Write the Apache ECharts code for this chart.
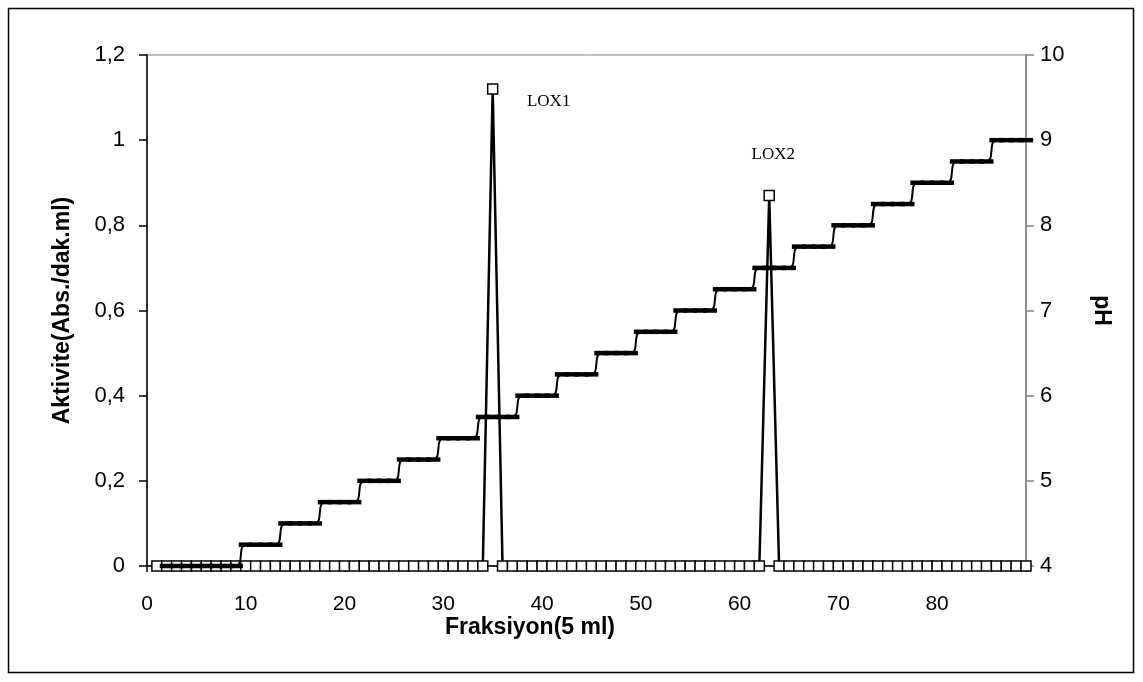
<!DOCTYPE html>
<html>
<head>
<meta charset="utf-8">
<script src="https://cdn.jsdelivr.net/npm/echarts@6/dist/echarts.min.js"></script>
<style>
html,body{margin:0;padding:0;background:#fff;}
#c{width:1143px;height:682px;}
</style>
</head>
<body>
<div id="c"></div>
<script>
// Fraction numbers (x)
var fractions = [1,2,3,4,5,6,7,8,9,10,11,12,13,14,15,16,17,18,19,20,21,22,23,24,25,26,27,28,29,30,
  31,32,33,34,35,36,37,38,39,40,41,42,43,44,45,46,47,48,49,50,51,52,53,54,55,56,57,58,59,60,
  61,62,63,64,65,66,67,68,69,70,71,72,73,74,75,76,77,78,79,80,81,82,83,84,85,86,87,88,89];
// Activity (Abs./dak.ml), left axis
var activity = [0,0,0,0,0,0,0,0,0,0,0,0,0,0,0,0,0,0,0,0,0,0,0,0,0,0,0,0,0,0,
  0,0,0,0,1.12,0,0,0,0,0,0,0,0,0,0,0,0,0,0,0,0,0,0,0,0,0,0,0,0,0,
  0,0,0.87,0,0,0,0,0,0,0,0,0,0,0,0,0,0,0,0,0,0,0,0,0,0,0,0,0,0];
// pH gradient, right axis
var pH = [null,4,4,4,4,4,4,4,4,4.25,4.25,4.25,4.25,4.5,4.5,4.5,4.5,4.75,4.75,4.75,4.75,5,5,5,5,5.25,5.25,5.25,5.25,5.5,
  5.5,5.5,5.5,5.75,5.75,5.75,5.75,6,6,6,6,6.25,6.25,6.25,6.25,6.5,6.5,6.5,6.5,6.75,6.75,6.75,6.75,7,7,7,7,7.25,7.25,7.25,
  7.25,7.5,7.5,7.5,7.5,7.75,7.75,7.75,7.75,8,8,8,8,8.25,8.25,8.25,8.25,8.5,8.5,8.5,8.5,8.75,8.75,8.75,8.75,9,9,9,9];
var leftTicks = [0, 0.2, 0.4, 0.6, 0.8, 1, 1.2];
var rightTicks = [4, 5, 6, 7, 8, 9, 10];
var xTicks = [0, 10, 20, 30, 40, 50, 60, 70, 80];
var peakLabels = [{name: 'LOX1', x: 35, y: 1.12}, {name: 'LOX2', x: 63, y: 0.87}];

var actData = fractions.map(function(f, i){ return [f, activity[i]]; });
var phData = fractions.map(function(f, i){ return [f, pH[i]]; }).filter(function(d){ return d[1] !== null; });

var FONT = "'Liberation Sans', Arial, sans-serif";
var chart = echarts.init(document.getElementById('c'), null, {renderer: 'canvas'});
var option = {
  animation: false,
  backgroundColor: '#fff',
  grid: {left: 147, right: 117, top: 55, bottom: 116, show: true, borderColor: '#808080', borderWidth: 1},
  xAxis: {
    type: 'value', min: 0, max: 89, interval: 10,
    axisLine: {show: true, onZero: false, lineStyle: {color: '#000', width: 1.5}},
    axisTick: {show: true, inside: false, length: 6, lineStyle: {color: '#000', width: 1.5}},
    axisLabel: {color: '#000', fontSize: 21, fontFamily: FONT, margin: 28,
      formatter: function(v){ return xTicks.indexOf(v) >= 0 ? String(v) : ''; }},
    splitLine: {show: false}
  },
  yAxis: [{
    type: 'value', min: leftTicks[0], max: leftTicks[leftTicks.length-1], interval: 0.2,
    position: 'left',
    name: 'Aktivite(Abs./dak.ml)', nameLocation: 'middle', nameGap: 73, nameRotate: 90,
    nameTextStyle: {color: '#000', fontSize: 23, fontWeight: 'bold', fontFamily: FONT},
    axisLine: {show: true, lineStyle: {color: '#000', width: 1.5}},
    axisTick: {show: true, length: 8, lineStyle: {color: '#000', width: 1.5}},
    axisLabel: {color: '#000', fontSize: 22, fontFamily: FONT, margin: 22,
      formatter: function(v){ return String(+v.toFixed(1)).replace('.', ','); }},
    splitLine: {show: false}
  }, {
    type: 'value', min: rightTicks[0], max: rightTicks[rightTicks.length-1], interval: 1,
    position: 'right',
    name: 'pH', nameLocation: 'middle', nameGap: 64, nameRotate: -90,
    nameTextStyle: {color: '#000', fontSize: 23, fontWeight: 'bold', fontFamily: FONT},
    axisLine: {show: true, lineStyle: {color: '#808080', width: 1.5}},
    axisTick: {show: true, length: 8, lineStyle: {color: '#808080', width: 1.5}},
    axisLabel: {color: '#000', fontSize: 22, fontFamily: FONT, margin: 14},
    splitLine: {show: false}
  }],
  graphic: [
    {type: 'rect', shape: {x: 8.5, y: 8.5, width: 1125, height: 664}, style: {fill: 'none', stroke: '#000', lineWidth: 1.5}, z: 100},
    {type: 'text', x: 530, y: 628, style: {text: 'Fraksiyon(5 ml)', fill: '#000', font: "bold 23px " + FONT, textAlign: 'center', textVerticalAlign: 'middle'}, z: 100}
  ],
  series: [{
    type: 'line', yAxisIndex: 0, data: actData, z: 3,
    symbol: 'rect', symbolSize: 10, showAllSymbol: true,
    itemStyle: {color: '#fff', borderColor: '#000', borderWidth: 1.5},
    lineStyle: {color: '#000', width: 2.5},
    label: {show: false},
    markPoint: {
      symbol: 'circle', symbolSize: 0,
      label: {show: true, color: '#000', fontSize: 17, fontFamily: "'Liberation Serif', 'Times New Roman', serif"},
      data: peakLabels.map(function(p, i){
        return {coord: [p.x, p.y], value: p.name,
          label: {formatter: p.name, offset: i === 0 ? [56, 12] : [4, -41]}};
      })
    }
  }, {
    type: 'line', yAxisIndex: 1, data: phData, z: 4,
    smooth: 0.6,
    symbol: 'rect', symbolSize: [14, 4.5], showAllSymbol: true,
    itemStyle: {color: '#000'},
    lineStyle: {color: '#000', width: 2}
  }]
};
chart.setOption(option);
</script>
</body>
</html>
